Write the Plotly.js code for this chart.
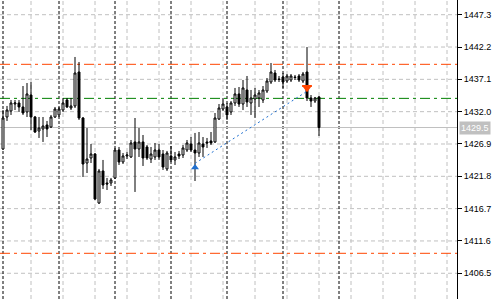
<!DOCTYPE html>
<html>
<head>
<meta charset="utf-8">
<script src="https://cdn.plot.ly/plotly-3.0.1.min.js"></script>
<style>html,body{margin:0;padding:0;background:#fff;}#chart{width:494px;height:299px;}</style>
</head>
<body>
<div id="chart"></div>
<script>
// Bar index (time) and OHLC prices
var bars = [];
for (var i = 0; i < 80; i++) bars.push(i);
var opens = [1426.11,1431.16,1432.11,1433.21,1433.37,1432.74,1431.95,1434.63,1431.16,1428.95,
             1429.27,1429.90,1429.58,1431.16,1431.48,1432.26,1433.84,1432.58,1432.90,1438.26,
             1431.00,1423.90,1424.69,1425.32,1417.59,1422.64,1420.75,1420.75,1421.54,1425.95,
             1424.06,1425.01,1424.85,1427.22,1426.11,1427.22,1426.43,1424.53,1424.85,1425.95,
             1425.32,1422.96,1425.01,1424.38,1425.32,1425.16,1425.95,1426.90,1425.95,1425.48,
             1426.90,1427.22,1427.37,1427.22,1430.84,1432.42,1432.74,1431.95,1433.37,1434.79,
             1433.21,1435.42,1433.37,1434.00,1434.16,1433.84,1435.26,1436.68,1438.10,1437.16,
             1437.47,1436.84,1437.00,1437.47,1437.63,1436.84,1438.26,1434.16,1433.68,1434.32];
var highs = [1432.26,1432.90,1433.84,1433.84,1433.84,1436.05,1436.52,1436.68,1431.32,1431.16,
             1431.16,1430.53,1431.48,1432.74,1432.74,1434.16,1434.16,1434.16,1440.63,1439.84,
             1431.16,1429.42,1426.90,1425.48,1422.96,1424.38,1421.54,1421.54,1426.27,1426.43,
             1425.48,1425.64,1427.53,1431.00,1429.42,1428.32,1426.74,1426.43,1427.06,1426.90,
             1425.95,1425.80,1426.58,1425.64,1425.80,1426.74,1427.53,1428.00,1428.64,1428.79,
             1428.00,1427.85,1428.79,1431.79,1433.21,1434.16,1433.37,1433.68,1435.74,1435.89,
             1437.00,1437.63,1435.42,1435.74,1435.42,1436.05,1437.31,1439.68,1438.58,1437.63,
             1438.10,1437.94,1437.94,1437.79,1437.94,1438.26,1442.20,1434.63,1434.32,1434.47];
var lows  = [1425.95,1430.53,1431.48,1432.26,1431.95,1431.48,1431.16,1429.11,1428.64,1427.85,
             1427.22,1428.00,1429.42,1431.00,1431.16,1431.95,1432.58,1432.26,1432.58,1430.69,
             1421.69,1422.32,1423.90,1418.06,1417.43,1419.80,1419.64,1420.27,1421.38,1423.59,
             1423.74,1424.53,1424.69,1419.33,1424.85,1423.43,1424.38,1423.90,1424.38,1424.38,
             1422.80,1422.64,1424.06,1423.59,1424.53,1424.69,1425.64,1425.64,1421.06,1424.85,
             1424.85,1426.27,1426.74,1427.06,1430.69,1432.11,1430.69,1431.48,1432.90,1432.74,
             1432.26,1432.74,1431.48,1431.00,1432.74,1433.37,1434.95,1436.37,1436.68,1436.68,
             1435.74,1436.52,1436.68,1437.00,1436.68,1436.52,1433.68,1432.74,1433.37,1428.16];
var closes= [1431.00,1432.26,1433.37,1433.37,1432.74,1431.79,1434.79,1431.16,1428.79,1429.42,
             1429.74,1429.27,1431.16,1432.42,1432.42,1433.37,1432.74,1432.90,1438.10,1431.00,
             1423.74,1424.53,1425.32,1418.22,1422.64,1420.43,1420.59,1421.22,1425.95,1424.06,
             1425.01,1425.16,1427.06,1426.11,1427.22,1424.69,1424.69,1425.32,1425.95,1424.85,
             1423.27,1425.48,1424.38,1424.85,1425.01,1426.27,1427.06,1425.95,1425.48,1427.06,
             1426.43,1427.06,1427.06,1431.00,1432.58,1433.21,1431.48,1433.37,1434.79,1433.21,
             1435.74,1433.53,1434.16,1434.63,1434.95,1435.42,1436.84,1438.26,1437.00,1437.08,
             1436.68,1437.63,1437.63,1437.39,1437.00,1437.94,1434.16,1433.68,1434.16,1429.50];

// Axis ticks
var yTickVals = [1406.5,1411.6,1416.7,1421.8,1426.9,1432.0,1437.1,1442.2,1447.3];
var yTickText = ['1406.5','1411.6','1416.7','1421.8','1426.9','1432.0','1437.1','1442.2','1447.3'];
var xGridBars = [7,15,23,31,39,47,55,63,71,79,87,95,103,111];
var separatorBars = [0,14,28,42,56,70,84];

// Horizontal levels
var levelPrices = [1439.47, 1434.10, 1409.65];
var levelColors = ['#ff4500', '#008000', '#ff4500'];
var bidPrice = 1429.5;

// Trade (buy open -> close)
var tradeBars = [48, 76];
var tradePrices = [1423.85, 1435.21];
var arrowPrices = [1423.2, 1435.6];

var shapes = [];
// grid (drawn as shapes so the light gray colour is kept)
xGridBars.forEach(function (b) {
  shapes.push({type:'line', xref:'x', yref:'paper', x0:b, x1:b, y0:0, y1:1, layer:'below',
               line:{color:'#c0c0c0', width:1, dash:'4px,3px'}});
});
yTickVals.forEach(function (p) {
  shapes.push({type:'line', xref:'paper', yref:'y', x0:0, x1:1, y0:p, y1:p, layer:'below',
               line:{color:'#c0c0c0', width:1, dash:'4px,3px'}});
});
separatorBars.forEach(function (b) {
  shapes.push({type:'line', xref:'x', yref:'paper', x0:b, x1:b, y0:0, y1:1, layer:'below',
               line:{color:'#000', width:1, dash:'3px,2px'}});
});
levelPrices.forEach(function (p, k) {
  shapes.push({type:'line', xref:'paper', yref:'y', x0:0, x1:1, y0:p, y1:p, layer:'below',
               line:{color:levelColors[k], width:1, dash:'10px,4px,3px,4px'}});
});
shapes.push({type:'line', xref:'paper', yref:'y', x0:0, x1:1, y0:bidPrice, y1:bidPrice, layer:'below',
             line:{color:'#c0c0c0', width:1}});

var traces = [
  {type:'scatter', mode:'lines', x:tradeBars, y:tradePrices, hoverinfo:'skip',
   line:{color:'#1e6fd0', width:1, dash:'2px,3px'}},
  {type:'candlestick', x:bars, open:opens, high:highs, low:lows, close:closes,
   whiskerwidth:0, hoverinfo:'skip',
   increasing:{line:{color:'#000', width:1}, fillcolor:'#ffffff'},
   decreasing:{line:{color:'#000', width:1}, fillcolor:'#000000'}},
  {type:'scatter', mode:'markers', x:[tradeBars[0]], y:[arrowPrices[0]], hoverinfo:'skip',
   marker:{symbol:'triangle-up', size:7, color:'#1e6fd0'}},
  {type:'scatter', mode:'markers', x:[tradeBars[1]], y:[arrowPrices[1]], hoverinfo:'skip',
   marker:{symbol:'triangle-down', size:7, color:'#ff4500'}},
  {type:'scatter', mode:'markers', x:[tradeBars[1]], y:[arrowPrices[1]+0.45], hoverinfo:'skip',
   marker:{symbol:'line-ew', size:7, line:{color:'#ff4500', width:2}}}
];

var layout = {
  width:494, height:299,
  margin:{l:0, r:37, t:0, b:0, pad:0},
  paper_bgcolor:'#ffffff', plot_bgcolor:'#ffffff',
  showlegend:false, hovermode:false,
  boxgap:0.3,
  font:{family:'Liberation Sans, Arial, sans-serif', size:9, color:'#000'},
  xaxis:{range:[-0.75, 113.5], showticklabels:false, ticks:'', showgrid:false,
         zeroline:false, showline:false, rangeslider:{visible:false}, fixedrange:true},
  yaxis:{range:[1402.44, 1449.62], side:'right', tickvals:yTickVals, ticktext:yTickText,
         ticks:'outside', ticklen:4, tickcolor:'#000', showline:true, linecolor:'#000', linewidth:1,
         showgrid:false, zeroline:false, fixedrange:true, tickfont:{size:9, color:'#000'}},
  shapes:shapes,
  annotations:[{xref:'paper', yref:'y', x:1, y:bidPrice, xanchor:'left', yanchor:'middle',
                xshift:2, text:'1429.5', showarrow:false, bgcolor:'#c0c0c0',
                font:{color:'#ffffff', size:9}, borderpad:1}]
};

Plotly.newPlot('chart', traces, layout, {staticPlot:true, displayModeBar:false});
</script>
</body>
</html>
